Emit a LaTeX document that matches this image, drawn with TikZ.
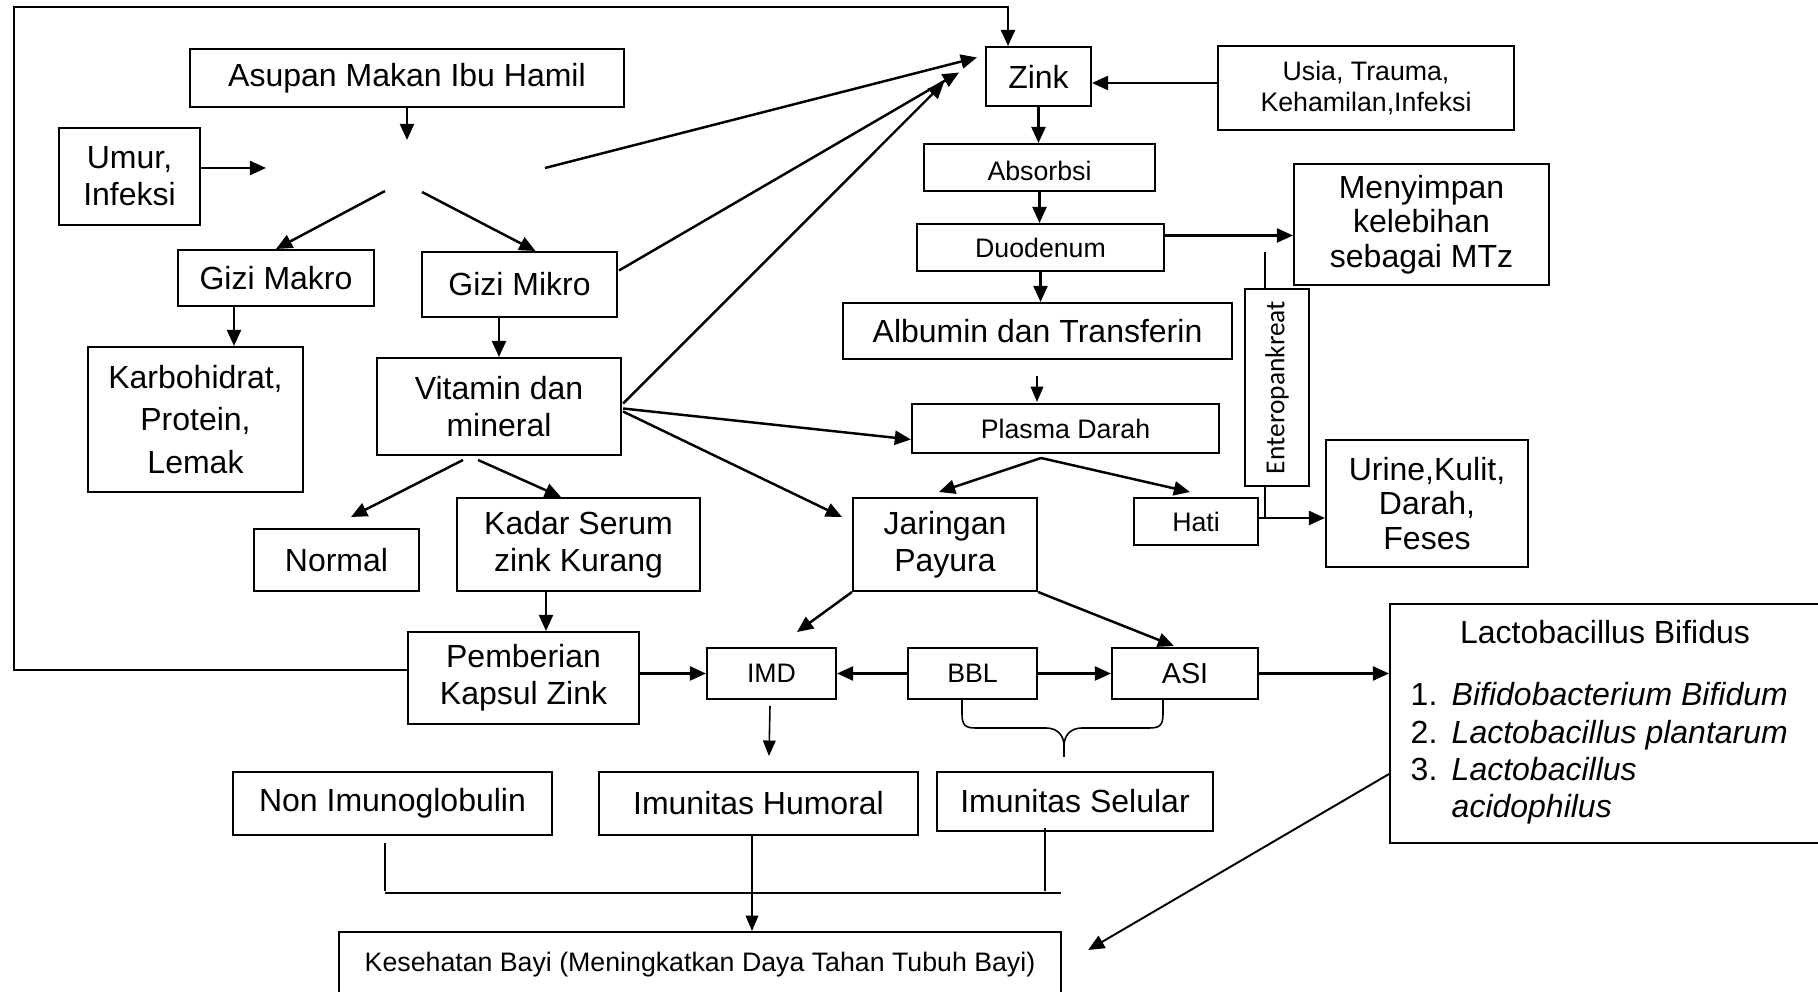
\documentclass[tikz,border=0pt]{standalone}
\usepackage{fontspec}
\setmainfont{Liberation Sans}
\newfontfamily\enterofont{Carlito}
\usetikzlibrary{arrows.meta,calc}
\tikzset{
  box/.style={draw, line width=0.55pt, inner sep=0pt, align=center, font=\fontsize{9.1}{10.5}\selectfont},
  sbox/.style={box, font=\fontsize{7.6}{8.6}\selectfont},
  arr/.style={-{Triangle[length=4.6pt,width=4pt]}, line width=0.7pt},
  tarr/.style={-{Triangle[length=4.4pt,width=3.6pt]}, line width=0.45pt},
  thinln/.style={line width=0.45pt},
  listtxt/.style={anchor=base west, inner sep=0pt, font=\fontsize{9.1}{10.5}\selectfont}
}
\begin{document}
\begin{tikzpicture}[x=0.01cm, y=-0.01cm]
\useasboundingbox (0,0) rectangle (1818,992);

% boxes
\node[box, minimum width=4.34cm, minimum height=0.58cm] (asupan) at (407,78) {Asupan Makan Ibu Hamil};
\node[box, minimum width=1.41cm, minimum height=0.97cm] (umur) at (129.5,176.5) {Umur,\\Infeksi};
\node[box, minimum width=1.96cm, minimum height=0.56cm] (makro) at (276,278) {Gizi Makro};
\node[box, minimum width=1.95cm, minimum height=0.65cm] (mikro) at (519.5,284.5) {Gizi Mikro};
\node[box, minimum width=2.15cm, minimum height=1.45cm, font=\fontsize{9.1}{12}\selectfont] (karbo) at (195.5,419.5) {Karbohidrat,\\Protein,\\Lemak};
\node[box, minimum width=2.44cm, minimum height=0.97cm] (vit) at (499,406.5) {Vitamin dan\\mineral};
\node[box, minimum width=1.65cm, minimum height=0.62cm] (normal) at (336.5,560) {Normal};
\node[box, minimum width=2.43cm, minimum height=0.93cm] (kadar) at (578.5,544.5) {Kadar Serum\\zink Kurang};
\node[box, minimum width=2.31cm, minimum height=0.92cm] (pember) at (523.5,678) {Pemberian\\Kapsul Zink};
\node[sbox, minimum width=1.29cm, minimum height=0.51cm] (imd) at (771.5,673.5) {IMD};
\node[sbox, minimum width=1.29cm, minimum height=0.51cm] (bbl) at (972.5,673.5) {BBL};
\node[sbox, minimum width=1.46cm, minimum height=0.51cm, font=\fontsize{8.2}{9}\selectfont] (asi) at (1185,673.5) {ASI};
\node[box, minimum width=1.84cm, minimum height=0.93cm] (jar) at (945,544.5) {Jaringan\\Payura};
\node[box, minimum width=1.05cm, minimum height=0.59cm] (zink) at (1038.5,76.5) {Zink};
\node[sbox, minimum width=2.96cm, minimum height=0.84cm] (usia) at (1366,88) {Usia, Trauma,\\Kehamilan,Infeksi};
\node[sbox, minimum width=2.31cm, minimum height=0.47cm, text height=0.27cm, text depth=0cm] (absorb) at (1039.5,167.5) {Absorbsi};
\node[sbox, minimum width=2.47cm, minimum height=0.47cm] (duo) at (1040.5,247.5) {Duodenum};
\node[box, minimum width=2.55cm, minimum height=1.21cm, font=\fontsize{9.1}{9.8}\selectfont] (simpan) at (1421.5,224.5) {Menyimpan\\kelebihan\\sebagai MTz};
\node[box, minimum width=3.89cm, minimum height=0.56cm] (albumin) at (1037.5,331) {Albumin dan Transferin};
\node[sbox, minimum width=3.07cm, minimum height=0.49cm] (plasma) at (1065.5,428.5) {Plasma Darah};
\node[sbox, minimum width=1.24cm, minimum height=0.47cm] (hati) at (1196,521.5) {Hati};
\node[box, rotate=90, minimum width=1.97cm, minimum height=0.64cm, font=\enterofont\fontsize{7.8}{9}\selectfont] (entero) at (1277,387.5) {Enteropankreat};
\node[box, minimum width=2.02cm, minimum height=1.27cm, font=\fontsize{9.1}{9.8}\selectfont] (urine) at (1427,503.5) {Urine,Kulit,\\Darah,\\Feses};
\node[box, anchor=north west, minimum width=4.6cm, minimum height=2.39cm] (lacto) at (1389,603) {};
\node[box, minimum width=3.19cm, minimum height=0.63cm] (nonimun) at (392.5,803.5) {Non Imunoglobulin};
\node[box, minimum width=3.19cm, minimum height=0.63cm] (humoral) at (758.5,803.5) {Imunitas Humoral};
\node[box, minimum width=2.76cm, minimum height=0.59cm] (selular) at (1075,801.5) {Imunitas Selular};
\node[sbox, anchor=north, minimum width=7.22cm, minimum height=0.66cm] (sehat) at (700,931) {Kesehatan Bayi (Meningkatkan Daya Tahan Tubuh Bayi)};

% lacto contents
\node[inner sep=0pt, font=\fontsize{9.1}{10.5}\selectfont] (lactot) at (1605,632) {Lactobacillus Bifidus};
\node[listtxt] (l1n) at (1410,706) {1.};
\node[listtxt, font=\fontsize{9.1}{10.5}\selectfont\itshape] (l1) at (1451,706) {Bifidobacterium Bifidum};
\node[listtxt] (l2n) at (1410,744) {2.};
\node[listtxt, font=\fontsize{9.1}{10.5}\selectfont\itshape] (l2) at (1451,744) {Lactobacillus plantarum};
\node[listtxt] (l3n) at (1410,781) {3.};
\node[listtxt, font=\fontsize{9.1}{10.5}\selectfont\itshape] (l3) at (1451,781) {Lactobacillus};
\node[listtxt, font=\fontsize{9.1}{10.5}\selectfont\itshape] (l4) at (1451,818) {acidophilus};

% hub coordinates
\coordinate (hubN) at (407,140);
\coordinate (hubW) at (266,168);
\coordinate (hubE) at (545,168);
\coordinate (hubSW) at (385,191);
\coordinate (hubSE) at (422,192);
\coordinate (zinkA) at ($(zink.west)+(-8,-19)$);
\coordinate (zinkB) at ($(zink.west)+(-26,-4)$);
\coordinate (zinkC) at ($(zink.west)+(-41,6)$);

% feedback loop
\coordinate (fbStart) at ($(pember.west)+(0,-8)$);
\coordinate (fbA) at (14,7);
\coordinate (fbB) at (1008,7);
\draw[arr] (fbStart) -| (fbA) -- (fbB) -- (fbB |- zink.north);

% upper left
\draw[arr] (asupan.south) -- (hubN);
\draw[arr] (umur.east |- hubW) -- (hubW);
\draw[arr] (hubSW) -- (makro.north);
\draw[arr] (hubSE) -- ($(mikro.north)+(16,0)$);
\draw[arr] (hubE) -- (zinkA);
\draw[arr] ($(mikro.east)+(1,-14)$) -- (zinkB);
\draw[arr] ($(vit.east)+(1,-3)$) -- (zinkC);
\draw[arr] ($(vit.east)+(1,2)$) -- ($(plasma.west)+(0,11)$);
\draw[arr] ($(vit.east)+(1,5)$) -- ($(jar.north west)+(-10,20)$);
\draw[arr] ($(vit.south)+(-36,4)$) -- ($(normal.north)+(14.5,-11)$);
\draw[arr] ($(vit.south)+(-21,4)$) -- ($(kadar.north)+(-17.5,0)$);
\draw[arr] ($(makro.south)+(-42,0)$) -- ($(karbo.north)+(38.5,0)$);
\draw[arr] (vit.north |- mikro.south) -- (vit.north);
\draw[arr] ($(kadar.south)+(-32.5,0)$) -- ($(pember.north)+(22.5,0)$);

% bottom middle
\draw[arr] (pember.east |- imd.west) -- (imd.west);
\draw[arr] (bbl.west) -- (imd.east);
\draw[arr] (bbl.east) -- (asi.west);
\draw[arr] (asi.east) -- (asi.east -| lacto.west);
\draw[arr] (jar.south west) -- ($(imd.north)+(25.5,-15)$);
\draw[arr] (jar.south east) -- ($(asi.north)+(-11,-1)$);
\draw[tarr] ($(imd.south)+(-1.5,6)$) -- ($(humoral.north)+(10.5,-15)$);

% plasma
\coordinate (plOut) at ($(plasma.south)+(-24.5,4)$);
\draw[arr] (plOut) -- ($(jar.north)+(-6,-5)$);
\draw[arr] (plOut) -- ($(hati.north)+(-6,-5)$);
\draw[tarr] ($(albumin.south)+(-0.5,16)$) -- ($(plasma.north)+(-28.5,-1)$);

% zink chain
\draw[arr] (zink.south) -- (zink.south |- absorb.north);
\draw[arr] (absorb.south) -- (absorb.south |- duo.north);
\draw[arr] (duo.south) -- (duo.south |- albumin.north);
\coordinate (usiaOut) at ($(usia.west)+(0,-5)$);
\draw[arr] (usiaOut) -- (usiaOut -| zink.east);
\coordinate (duoOut) at ($(duo.east)+(0,-12)$);
\draw[arr] (duoOut) -- (duoOut -| simpan.west);

% enteropankreat
\coordinate (entTop) at ($(entero.east)+(-12,-36)$);
\coordinate (hatiOut) at ($(hati.east)+(0,-3.5)$);
\draw[thinln] (entTop) -- (entTop |- entero.east);
\draw[thinln] (entero.west -| entTop) -- (hatiOut -| entTop);
\draw[arr] (hatiOut) -- (hatiOut -| urine.west);

% brace under BBL and ASI
\coordinate (brL) at ($(bbl.south)+(-10.5,0)$);
\coordinate (brR) at ($(asi.south)+(-22,0)$);
\coordinate (brTip) at (1064,757);
\draw[thinln] (brL) -- ++(0,14) .. controls +(0,12) and +(-10,0) .. (976,728) -- (1046,728) .. controls (1058,728) and (1064,736) .. (1064,746) -- (brTip);
\draw[thinln] (brR) -- ++(0,14) .. controls +(0,12) and +(10,0) .. (1149,728) -- (1082,728) .. controls (1070,728) and (1064,736) .. (1064,746);

% immunity junction
\coordinate (jL) at (385,893);
\coordinate (jR) at (1061,893);
\draw[thinln] ($(nonimun.south)+(-7.5,7)$) -- ($(nonimun.south)+(-7.5,55)$);
\draw[thinln] (jL) -- (jR);
\draw[thinln] ($(selular.south)+(-30,-4)$) -- ($(selular.south)+(-30,59)$);
\draw[tarr] ($(humoral.south)+(-6.5,0)$) -- ($(sehat.north)+(52,0)$);

% lacto to kesehatan
\draw[arr, line width=0.55pt] ($(lacto.west)+(0,50.5)$) -- ($(sehat.north east)+(26,19)$);
\end{tikzpicture}
\end{document}
